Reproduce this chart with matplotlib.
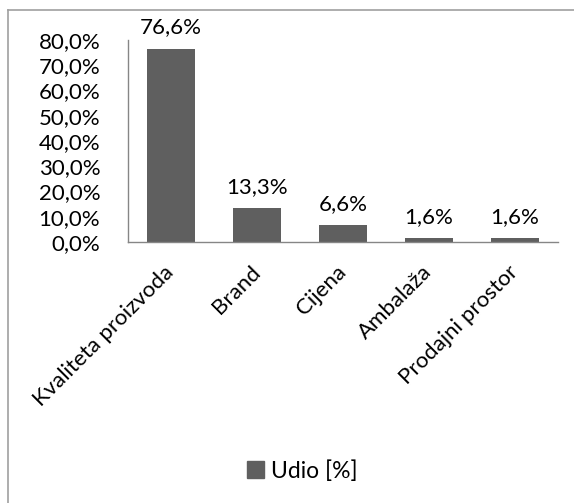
import matplotlib.pyplot as plt
import matplotlib.transforms as mtransforms
from matplotlib.lines import Line2D
from matplotlib.patches import Patch

categories = ['Kvaliteta proizvoda', 'Brand', 'Cijena', 'Ambalaža', 'Prodajni prostor']
udio = [76.6, 13.3, 6.6, 1.6, 1.6]
y_ticks = [0, 10, 20, 30, 40, 50, 60, 70, 80]

plt.rcParams['font.family'] = ['Lato', 'DejaVu Sans']
fs = 16

fig = plt.figure(figsize=(5.74, 5.03), dpi=100)
ax = fig.add_axes([128 / 574, 1 - 242 / 503, 430 / 574, 202 / 503])

x = range(len(categories))
ax.bar(x, udio, width=0.56, color='#5f5f5f')
for xi, v in zip(x, udio):
    ax.text(xi, v + 4.5, f'{v:.1f}%'.replace('.', ','), ha='center', va='bottom', fontsize=fs)

ax.set_xlim(-0.5, len(categories) - 0.5)
ax.set_ylim(0, 80)
ax.set_yticks(y_ticks)
ax.set_yticklabels([f'{t:.1f}%'.replace('.', ',') for t in y_ticks], fontsize=fs)
ax.set_xticks(list(x))
ax.set_xticklabels(categories, rotation=45, ha='right', rotation_mode='anchor', fontsize=fs)
ax.tick_params(axis='x', length=0, pad=8)
ax.tick_params(axis='y', length=0, pad=20)

# nudge the rotated labels down-left like the original
shift = mtransforms.ScaledTranslation(-7 / 100, -9 / 100, fig.dpi_scale_trans)
for lbl in ax.get_xticklabels():
    lbl.set_transform(lbl.get_transform() + shift)

for s in ['top', 'right']:
    ax.spines[s].set_visible(False)
for s in ['left', 'bottom']:
    ax.spines[s].set_color('#868686')
    ax.spines[s].set_linewidth(1.0)

fig.legend(handles=[Patch(color='#5f5f5f', label='Udio [%]')], loc='center',
           bbox_to_anchor=(302 / 574, 1 - 471 / 503), frameon=False, fontsize=fs + 0.5,
           handlelength=0.75, handleheight=0.75, handletextpad=0.3)

# chart border (top and left only visible)
fig.add_artist(Line2D([8 / 574, 1], [1 - 10 / 503, 1 - 10 / 503], color='#a0a0a0', lw=1.2, transform=fig.transFigure))
fig.add_artist(Line2D([8 / 574, 8 / 574], [0, 1 - 10 / 503], color='#a0a0a0', lw=1.2, transform=fig.transFigure))

fig.savefig('out.png', dpi=100)
